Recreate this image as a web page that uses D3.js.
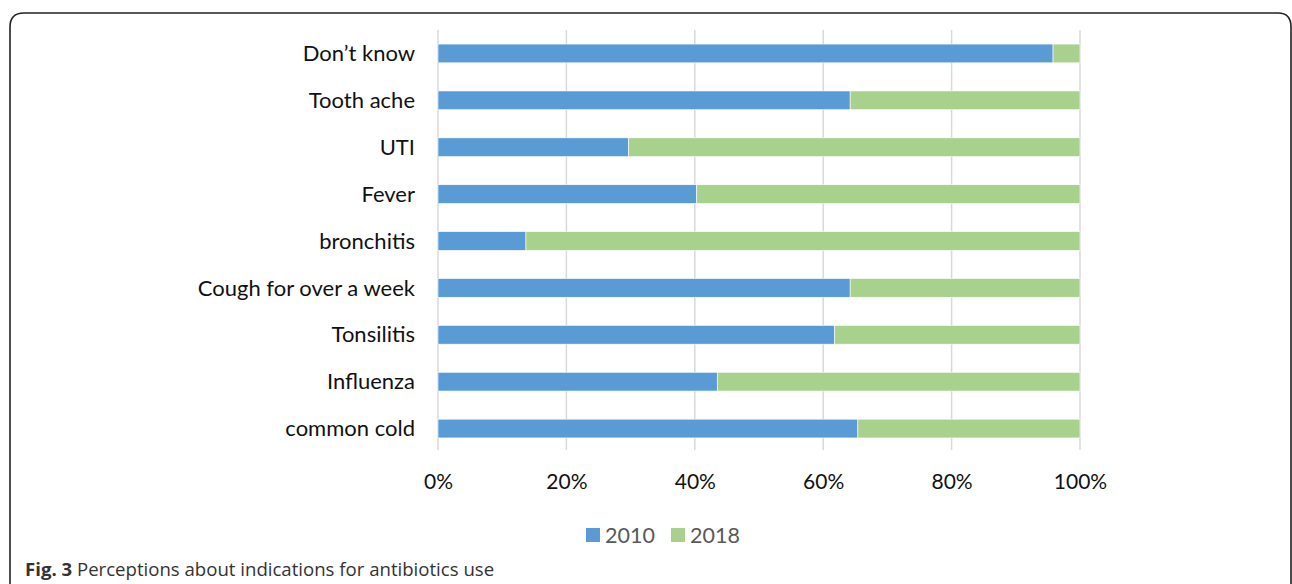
<!DOCTYPE html>
<html>
<head>
<meta charset="utf-8">
<script src="https://cdn.jsdelivr.net/npm/d3@7"></script>
<style>
  html, body { margin: 0; padding: 0; background: #fff; }
  svg { display: block; }
</style>
</head>
<body>
<svg id="chart" width="1292" height="584"></svg>
<script>
// Categories listed top to bottom
const categories = ["Don’t know", "Tooth ache", "UTI", "Fever", "bronchitis",
  "Cough for over a week", "Tonsilitis", "Influenza", "common cold"];
// Share of responses per category (fractions of 100%)
const values2010 = [0.958, 0.642, 0.297, 0.403, 0.137, 0.642, 0.618, 0.435, 0.654];
const values2018 = [0.042, 0.358, 0.703, 0.597, 0.863, 0.358, 0.382, 0.565, 0.346];
const seriesNames = ["2010", "2018"];
const seriesColors = ["#5B9BD5", "#A9D18E"];
const tickValues = [0, 0.2, 0.4, 0.6, 0.8, 1.0];

const svg = d3.select("#chart");

// Rounded frame around the figure
svg.append("path")
  .attr("d", `M10,600 L10,27 Q10,13 24,13 L1278,13 Q1291,13 1291,27 L1291,600`)
  .attr("fill", "none")
  .attr("stroke", "#222")
  .attr("stroke-width", 1.6);

const plot = { left: 438, right: 1080, top: 30, bottom: 452 };

const x = d3.scaleLinear().domain([0, 1]).range([plot.left, plot.right]);
const y = d3.scaleBand().domain(categories).range([plot.top, plot.bottom]).paddingInner(0.6).paddingOuter(0.3);

// Vertical gridlines
svg.append("g")
  .selectAll("line")
  .data(tickValues)
  .join("line")
  .attr("x1", d => x(d)).attr("x2", d => x(d))
  .attr("y1", plot.top).attr("y2", plot.bottom - 2)
  .attr("stroke", "#D9D9D9")
  .attr("stroke-width", 1.5);

// Stacked bars
const rows = categories.map((c, i) => ({ cat: c, v: [values2010[i], values2018[i]] }));
const stack = d3.stack().keys([0, 1]).value((d, k) => d.v[k]);
const stacked = stack(rows);

svg.append("g")
  .selectAll("g")
  .data(stacked)
  .join("g")
  .attr("fill", (d, i) => seriesColors[i])
  .selectAll("rect")
  .data(d => d)
  .join("rect")
  .attr("x", d => x(d[0]))
  .attr("width", d => x(Math.min(d[1], 1)) - x(d[0]))
  .attr("y", d => y(d.data.cat))
  .attr("height", y.bandwidth())
  .attr("stroke", "#fff")
  .attr("stroke-width", 0.6);

// Category axis labels
const font = "Lato, 'Open Sans', sans-serif";
svg.append("g")
  .selectAll("text")
  .data(categories)
  .join("text")
  .attr("x", 415)
  .attr("y", d => y(d) + y.bandwidth() / 2)
  .attr("dy", "0.35em")
  .attr("text-anchor", "end")
  .attr("font-family", font)
  .attr("font-size", 22)
  .attr("fill", "#111")
  .text(d => d);

// Percentage axis
const xAxis = d3.axisBottom(x)
  .tickValues(tickValues)
  .tickFormat(d3.format(".0%"))
  .tickSize(0)
  .tickPadding(0);
const gx = svg.append("g").attr("transform", `translate(0,${482})`).call(xAxis);
gx.select(".domain").remove();
gx.selectAll("text")
  .attr("font-family", font)
  .attr("font-size", 21)
  .attr("fill", "#111")
  .attr("dy", "0.35em");

// Legend
const legend = svg.append("g").attr("transform", "translate(586,535)");
const legendX = [0, 85];
seriesNames.forEach((name, i) => {
  const g = legend.append("g").attr("transform", `translate(${legendX[i]},0)`);
  g.append("rect").attr("x", 0).attr("y", -7).attr("width", 14).attr("height", 14).attr("fill", seriesColors[i]);
  g.append("text").attr("x", 19).attr("y", 0).attr("dy", "0.35em")
    .attr("font-family", font).attr("font-size", 21.5).attr("fill", "#595959").text(name);
});

// Caption
const cap = svg.append("text")
  .attr("x", 25).attr("y", 576)
  .attr("font-family", "'Open Sans', 'Noto Sans', sans-serif")
  .attr("font-size", 18.6)
  .attr("fill", "#333");
cap.append("tspan").attr("font-weight", "bold").text("Fig. 3");
cap.append("tspan").text(" Perceptions about indications for antibiotics use");
</script>
</body>
</html>
